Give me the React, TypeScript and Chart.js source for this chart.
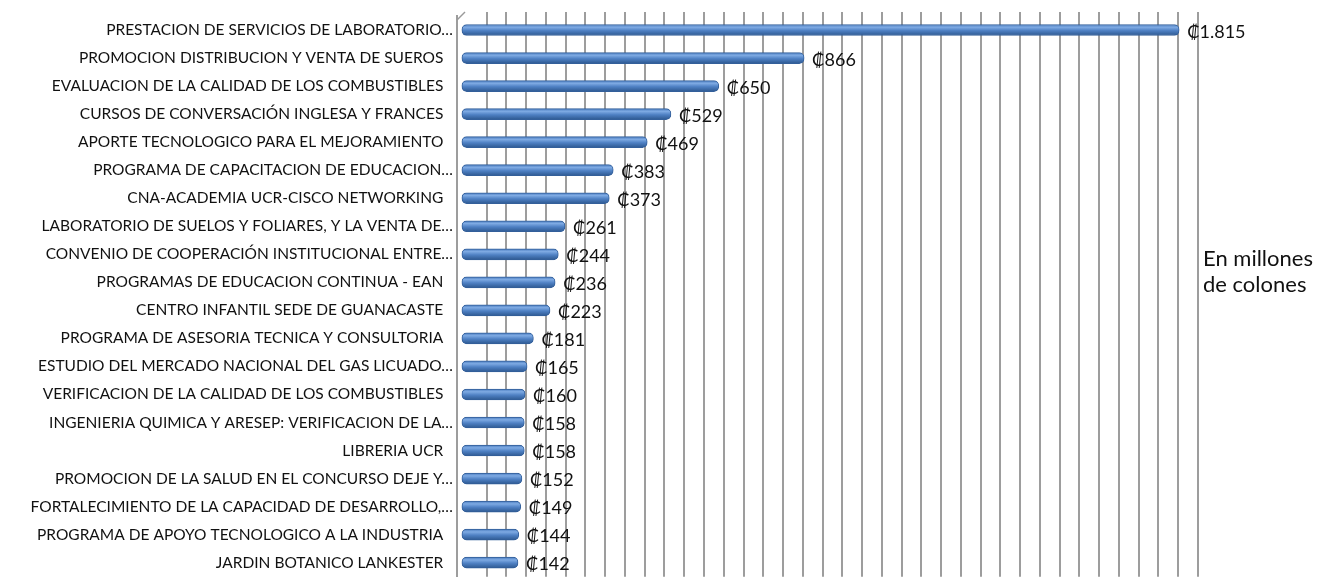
import { useEffect, useRef } from "react";
import { Chart, registerables } from "chart.js";

Chart.register(...registerables);

const categories: string[] = [
  "PRESTACION DE SERVICIOS DE LABORATORIO…",
  "PROMOCION DISTRIBUCION Y VENTA DE SUEROS",
  "EVALUACION DE LA CALIDAD DE LOS COMBUSTIBLES",
  "CURSOS DE CONVERSACIÓN INGLESA Y FRANCES",
  "APORTE TECNOLOGICO PARA EL MEJORAMIENTO",
  "PROGRAMA DE CAPACITACION DE EDUCACION…",
  "CNA-ACADEMIA UCR-CISCO NETWORKING",
  "LABORATORIO DE SUELOS Y FOLIARES, Y LA VENTA DE…",
  "CONVENIO DE COOPERACIÓN INSTITUCIONAL ENTRE…",
  "PROGRAMAS DE EDUCACION CONTINUA - EAN",
  "CENTRO INFANTIL SEDE DE GUANACASTE",
  "PROGRAMA DE ASESORIA TECNICA Y CONSULTORIA",
  "ESTUDIO DEL MERCADO NACIONAL DEL GAS LICUADO…",
  "VERIFICACION DE LA CALIDAD DE LOS COMBUSTIBLES",
  "INGENIERIA QUIMICA Y ARESEP: VERIFICACION DE LA…",
  "LIBRERIA UCR",
  "PROMOCION DE LA SALUD EN EL CONCURSO DEJE Y…",
  "FORTALECIMIENTO DE LA CAPACIDAD DE DESARROLLO,…",
  "PROGRAMA DE APOYO TECNOLOGICO A LA INDUSTRIA",
  "JARDIN BOTANICO LANKESTER",
];

const values: number[] = [
  1815, 866, 650, 529, 469, 383, 373, 261, 244, 236, 223, 181, 165, 160, 158,
  158, 152, 149, 144, 142,
];

const currencySymbol = "₡";
const unitLines: string[] = ["En millones", "de colones"];
const axisMin = -25;
const axisMax = 1850;
const gridStep = 50;

const FONT = "Lato, 'Open Sans', sans-serif";

function formatValue(v: number): string {
  return String(Math.round(v)).replace(/\B(?=(\d{3})+(?!\d))/g, ".");
}

const depthPlugin = {
  id: "depth3d",
  beforeDatasetsDraw(chart: any) {
    const ctx = chart.ctx;
    const a = chart.chartArea;
    ctx.save();
    ctx.strokeStyle = "#9a9a9a";
    ctx.lineWidth = 1.5;
    ctx.beginPath();
    ctx.moveTo(a.left, a.top + 4);
    ctx.lineTo(a.left + 8, a.top - 4);
    ctx.stroke();
    ctx.restore();
    ctx.save();
    ctx.translate(-5, 0);
  },
  afterDatasetsDraw(chart: any) {
    const ctx = chart.ctx;
    const meta = chart.getDatasetMeta(0);
    ctx.font = `18px ${FONT}`;
    ctx.fillStyle = "#111";
    ctx.textBaseline = "middle";
    ctx.textAlign = "left";
    meta.data.forEach((bar: any, i: number) => {
      ctx.fillText(currencySymbol + formatValue(values[i]), bar.x + 8, bar.y + 2);
    });
    ctx.restore();

    ctx.save();
    ctx.font = `22px ${FONT}`;
    ctx.fillStyle = "#111";
    ctx.textBaseline = "middle";
    ctx.textAlign = "left";
    const x = chart.chartArea.right + 5;
    ctx.fillText(unitLines[0], x, 259);
    ctx.fillText(unitLines[1], x, 285);
    ctx.restore();
  },
};

export default function App() {
  const canvasRef = useRef<HTMLCanvasElement | null>(null);

  useEffect(() => {
    if (!canvasRef.current) return;
    const chart = new Chart(canvasRef.current, {
      type: "bar",
      data: {
        labels: categories,
        datasets: [
          {
            data: values,
            barThickness: 11,
            borderRadius: 5,
            borderSkipped: false,
            borderWidth: 1,
            borderColor: "#335f9a",
            backgroundColor: (context: any) => {
              const chartObj = context.chart;
              const yScale = chartObj.scales?.y;
              if (!yScale) return "#4f81bd";
              const y = yScale.getPixelForValue(context.dataIndex);
              if (!Number.isFinite(y)) return "#4f81bd";
              const g = chartObj.ctx.createLinearGradient(0, y - 5.5, 0, y + 5.5);
              g.addColorStop(0, "#4a7cbf");
              g.addColorStop(0.25, "#7eaae3");
              g.addColorStop(0.55, "#4f81c4");
              g.addColorStop(1, "#2d5890");
              return g;
            },
          },
        ],
      },
      options: {
        indexAxis: "y",
        responsive: true,
        maintainAspectRatio: false,
        animation: false,
        layout: { padding: { top: 12, right: 129, bottom: 4, left: 0 } },
        plugins: {
          legend: { display: false },
          tooltip: { enabled: false },
          title: { display: false },
        },
        scales: {
          x: {
            position: "top",
            min: axisMin,
            max: axisMax,
            afterBuildTicks: (scale: any) => {
              const t = [];
              for (let v = gridStep; v <= axisMax; v += gridStep) t.push({ value: v });
              scale.ticks = t;
            },
            ticks: { display: false },
            grid: {
              color: "#9d9d9d",
              lineWidth: 2,
              drawTicks: true,
              tickLength: 4,
            },
            border: { display: false },
          },
          y: {
            afterFit: (scale: any) => {
              scale.width = 457;
            },
            grid: { display: false, drawTicks: false },
            border: { display: true, color: "#9d9d9d", width: 2 },
            ticks: {
              padding: 4,
              color: "#111",
              font: { family: FONT, size: 15.5 },
              autoSkip: false,
              callback: function (this: any, _v: any, i: number) {
                const s = categories[i];
                return s.endsWith("…") ? s : s + "\u2002\u2009";
              },
            },
          },
        },
      },
      plugins: [depthPlugin],
    } as any);
    return () => chart.destroy();
  }, []);

  return (
    <div
      style={{
        position: "fixed",
        left: 0,
        top: 0,
        width: 1327,
        height: 582,
        overflow: "hidden",
        background: "#fff",
      }}
    >
      <div style={{ position: "relative", width: 1327, height: 590 }}>
        <canvas ref={canvasRef} />
      </div>
    </div>
  );
}
